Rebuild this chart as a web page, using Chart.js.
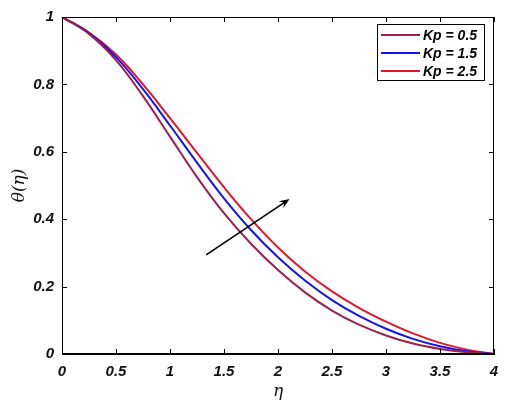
<!DOCTYPE html>
<html lang="en">
<head>
    <meta charset="UTF-8">
    <title>theta(eta) for several Kp</title>
    <style>
        body {
            margin: 0;
            background: #ffffff;
        }
        #wrap {
            width: 508px;
            height: 403px;
        }
    </style>
    <script src="https://cdn.jsdelivr.net/npm/chart.js"></script>
</head>
<body>
    <div id="wrap">
        <canvas id="chartCanvas" width="508" height="403"></canvas>
    </div>

    <script>
        // data
        const eta = [0, 0.25, 0.5, 0.75, 1, 1.25, 1.5, 1.75, 2, 2.25, 2.5, 2.75, 3, 3.25, 3.5, 3.75, 4];
        const thetaKp05 = [1, 0.950, 0.872, 0.765, 0.645, 0.525, 0.418, 0.327, 0.249, 0.183, 0.129, 0.087, 0.055, 0.031, 0.015, 0.005, 0];
        const thetaKp15 = [1, 0.952, 0.881, 0.786, 0.678, 0.568, 0.462, 0.368, 0.287, 0.218, 0.160, 0.113, 0.075, 0.045, 0.023, 0.008, 0];
        const thetaKp25 = [1, 0.954, 0.889, 0.800, 0.700, 0.597, 0.495, 0.400, 0.316, 0.245, 0.186, 0.137, 0.096, 0.061, 0.033, 0.013, 0];
        const seriesLabels = ['Kp = 0.5', 'Kp = 1.5', 'Kp = 2.5'];
        const xTickValues = [0, 0.5, 1, 1.5, 2, 2.5, 3, 3.5, 4];
        const yTickValues = [0, 0.2, 0.4, 0.6, 0.8, 1];
        // arrow showing the trend (data coordinates)
        const arrowFrom = [1.335, 0.294];
        const arrowTo = [2.107, 0.46];

        const colors = ['#9c1f50', '#1414ee', '#e0172c'];
        const tickFont = { family: 'Arial, "Liberation Sans", sans-serif', size: 15, style: 'italic', weight: 'bold' };

        function toPoints(ys) {
            return eta.map((x, i) => ({ x: x, y: ys[i] }));
        }

        // box, inward ticks, arrow and legend, all placed through the scales
        const boxPlugin = {
            id: 'boxPlugin',
            afterDraw(chart) {
                const ctx = chart.ctx;
                const a = chart.chartArea;
                const xs = chart.scales.x;
                const ys = chart.scales.y;
                ctx.save();
                ctx.strokeStyle = '#000';
                ctx.lineWidth = 1;
                ctx.strokeRect(a.left + 0.5, a.top + 0.5, a.right - a.left - 1, a.bottom - a.top - 1);
                const tl = 5;
                ctx.beginPath();
                xTickValues.forEach(v => {
                    const px = Math.round(xs.getPixelForValue(v)) + 0.5;
                    ctx.moveTo(px, a.bottom); ctx.lineTo(px, a.bottom - tl);
                    ctx.moveTo(px, a.top); ctx.lineTo(px, a.top + tl);
                });
                yTickValues.forEach(v => {
                    const py = Math.round(ys.getPixelForValue(v)) + 0.5;
                    ctx.moveTo(a.left, py); ctx.lineTo(a.left + tl, py);
                    ctx.moveTo(a.right, py); ctx.lineTo(a.right - tl, py);
                });
                ctx.stroke();

                // arrow
                const x0 = xs.getPixelForValue(arrowFrom[0]), y0 = ys.getPixelForValue(arrowFrom[1]);
                const x1 = xs.getPixelForValue(arrowTo[0]), y1 = ys.getPixelForValue(arrowTo[1]);
                const ang = Math.atan2(y1 - y0, x1 - x0);
                const hl = 11;
                ctx.lineWidth = 1.6;
                ctx.beginPath();
                ctx.moveTo(x0, y0);
                ctx.lineTo(x1 - Math.cos(ang) * 6, y1 - Math.sin(ang) * 6);
                ctx.stroke();
                ctx.fillStyle = '#000';
                ctx.beginPath();
                ctx.moveTo(x1, y1);
                ctx.lineTo(x1 - hl * Math.cos(ang - 0.38), y1 - hl * Math.sin(ang - 0.38));
                ctx.lineTo(x1 - hl * 0.6 * Math.cos(ang), y1 - hl * 0.6 * Math.sin(ang));
                ctx.lineTo(x1 - hl * Math.cos(ang + 0.38), y1 - hl * Math.sin(ang + 0.38));
                ctx.closePath();
                ctx.fill();

                // legend box in the upper right corner
                const lx = 377, ly = 24, lw = 107, lh = 56;
                ctx.fillStyle = '#fff';
                ctx.fillRect(lx, ly, lw, lh);
                ctx.lineWidth = 1;
                ctx.strokeStyle = '#000';
                ctx.strokeRect(lx + 0.5, ly + 0.5, lw, lh);
                ctx.font = 'italic bold 14px Arial, "Liberation Sans", sans-serif';
                ctx.textBaseline = 'middle';
                chart.data.datasets.forEach((ds, i) => {
                    const ry = ly + 11 + i * 18;
                    ctx.strokeStyle = ds.borderColor;
                    ctx.lineWidth = 2;
                    ctx.beginPath();
                    ctx.moveTo(lx + 4, ry); ctx.lineTo(lx + 43, ry);
                    ctx.stroke();
                    ctx.fillStyle = '#000';
                    ctx.fillText(ds.label, lx + 46, ry + 1);
                });
                ctx.restore();
            }
        };

        const ctx = document.getElementById('chartCanvas').getContext('2d');
        new Chart(ctx, {
            type: 'line',
            data: {
                datasets: [
                    { label: seriesLabels[0], data: toPoints(thetaKp05), borderColor: colors[0] },
                    { label: seriesLabels[1], data: toPoints(thetaKp15), borderColor: colors[1] },
                    { label: seriesLabels[2], data: toPoints(thetaKp25), borderColor: colors[2] }
                ].map(d => Object.assign(d, {
                    borderWidth: 2,
                    pointRadius: 0,
                    fill: false,
                    tension: 0.4
                }))
            },
            plugins: [boxPlugin],
            options: {
                responsive: false,
                animation: false,
                devicePixelRatio: 1,
                layout: { padding: { top: 14, right: 14, left: 0, bottom: 0 } },
                plugins: {
                    legend: { display: false },
                    tooltip: { enabled: false }
                },
                scales: {
                    x: {
                        type: 'linear',
                        min: 0,
                        max: 4,
                        afterBuildTicks: s => { s.ticks = xTickValues.map(v => ({ value: v })); },
                        afterFit: s => { s.height = 49; },
                        grid: { drawOnChartArea: false, drawTicks: false },
                        border: { color: '#000' },
                        ticks: { color: '#111', font: tickFont, padding: 9, maxRotation: 0, callback: v => String(v) },
                        title: {
                            display: true,
                            text: 'η',
                            color: '#111',
                            font: { family: '"DejaVu Serif", "Liberation Serif", serif', size: 17, style: 'italic' },
                            padding: { top: 0, bottom: 1 }
                        }
                    },
                    y: {
                        min: 0,
                        max: 1,
                        afterBuildTicks: s => { s.ticks = yTickValues.map(v => ({ value: v })); },
                        afterFit: s => { s.width = 62; },
                        grid: { drawOnChartArea: false, drawTicks: false },
                        border: { color: '#000' },
                        ticks: { color: '#111', font: tickFont, padding: 8, callback: v => String(v) },
                        title: {
                            display: true,
                            text: 'θ(η)',
                            color: '#111',
                            font: { family: '"DejaVu Serif", "Liberation Serif", serif', size: 17, style: 'italic' },
                            padding: { top: 9, bottom: 0 }
                        }
                    }
                }
            }
        });
    </script>
</body>
</html>
